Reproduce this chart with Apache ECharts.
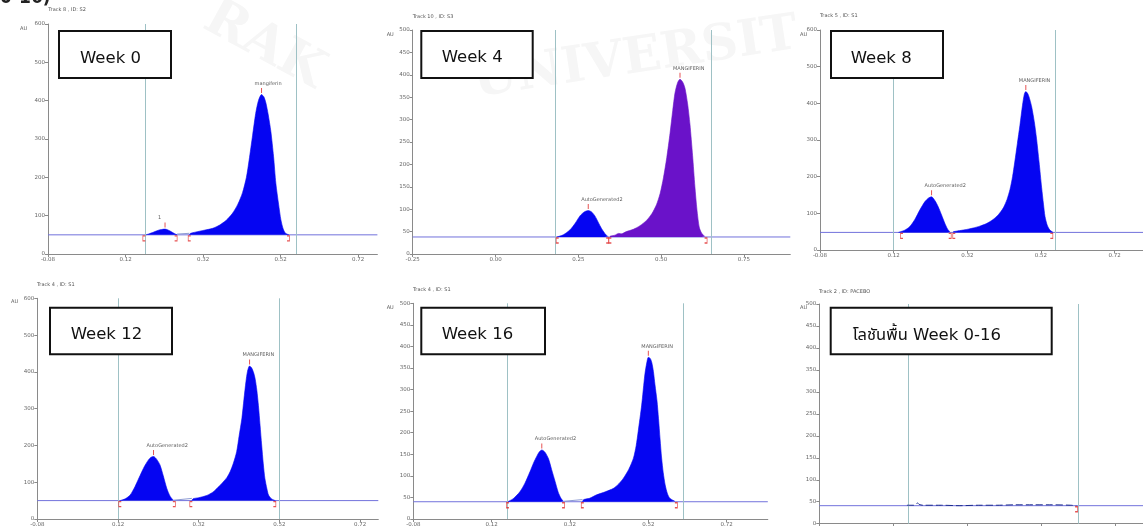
<!DOCTYPE html>
<html><head><meta charset="utf-8">
<script src="https://cdn.jsdelivr.net/npm/echarts@6/dist/echarts.min.js"></script>
<style>html,body{margin:0;padding:0;background:#fff}#c{width:1143px;height:526px}</style>
</head><body><div id="c"></div>
<script>
// ---------------- DATA ----------------
const panelTitles = ['Week 0', 'Week 4', 'Week 8', 'Week 12', 'Week 16', 'โลชันพื้น Week 0-16'];
const trackLabels = ['Track 8 , ID: S2', 'Track 10 , ID: S3', 'Track 5 , ID: S1', 'Track 4 , ID: S1', 'Track 4 , ID: S1', 'Track 2 , ID: PACEBO'];
const xRanges = [[-0.08, 0.77, 0.2], [-0.25, 0.89, 0.25], [-0.08, 0.80, 0.2], [-0.08, 0.765, 0.2], [-0.08, 0.825, 0.2], [-0.08, 0.796, 0.2]];
const yRanges = [[0, 600, 100], [0, 500, 50], [0, 600, 100], [0, 600, 100], [0, 500, 50], [0, 500, 50]];
const baselines = [50, 38, 48, 50, 40, 41];
const cutLines = [[0.165, 0.555], [0.182, 0.648], [0.12, 0.562], [0.12, 0.52], [0.157, 0.612], [0.157, 0.616]];

// Week 0
const w0Peak1 = [[0.173,50],[0.19,56],[0.205,62],[0.222,65],[0.235,60],[0.245,54],[0.253,50]];
const w0Gap = [[0.253,52],[0.285,54]];
const w0Main = [[0.285,50],[0.288,54],[0.30,57],[0.323,62],[0.345,67],[0.362,75],[0.38,88],[0.396,106],[0.41,130],[0.422,160],[0.432,200],[0.439,245],[0.448,310],[0.456,367],[0.463,400],[0.471,416],[0.477,410],[0.482,395],[0.488,365],[0.495,320],[0.502,255],[0.508,184],[0.515,130],[0.521,89],[0.527,65],[0.533,54],[0.542,50]];
const w0Open = [0.168, 0.285];
const w0Close = [0.25, 0.54];
const w0Peaks = [[0.222, 65, '1'], [0.471, 416, 'mangiferin']];

// Week 4
const w4Peak1 = [[0.185,38],[0.205,43],[0.225,54],[0.24,68],[0.255,85],[0.268,94],[0.28,97],[0.29,94],[0.30,85],[0.31,71],[0.32,57],[0.33,46],[0.339,39]];
const w4Main = [[0.346,40],[0.36,42],[0.372,46],[0.38,45],[0.395,50],[0.416,55],[0.436,63],[0.456,75],[0.472,90],[0.486,110],[0.497,135],[0.507,170],[0.517,215],[0.527,270],[0.535,320],[0.542,360],[0.55,383],[0.557,390],[0.565,384],[0.572,370],[0.58,335],[0.587,290],[0.595,220],[0.602,150],[0.608,100],[0.615,60],[0.622,47],[0.632,39]];
const w4Open = [0.187, 0.346];
const w4Close = [0.338, 0.635];
const w4Peaks = [[0.28, 97, 'AutoGenerated2'], [0.557, 390, 'MANGIFERIN']];

// Week 8
const w8Peak1 = [[0.133,48],[0.15,54],[0.164,64],[0.178,84],[0.191,109],[0.205,132],[0.215,142],[0.223,145],[0.232,135],[0.241,118],[0.25,96],[0.259,73],[0.266,58],[0.273,49]];
const w8Main = [[0.282,50],[0.30,53],[0.318,56],[0.336,60],[0.354,65],[0.372,72],[0.39,83],[0.405,97],[0.418,115],[0.428,138],[0.436,165],[0.443,200],[0.449,240],[0.456,290],[0.463,340],[0.47,395],[0.475,425],[0.479,432],[0.485,425],[0.49,410],[0.495,390],[0.502,350],[0.508,305],[0.515,240],[0.522,170],[0.527,125],[0.531,92],[0.537,68],[0.544,55],[0.553,48]];
const w8Open = [0.142, 0.284];
const w8Close = [0.273, 0.549];
const w8Peaks = [[0.223, 145, 'AutoGenerated2'], [0.479, 432, 'MANGIFERIN']];

// Week 12
const w12Peak1 = [[0.125,50],[0.138,55],[0.15,65],[0.162,88],[0.175,119],[0.185,142],[0.195,160],[0.202,168],[0.208,170],[0.216,162],[0.224,147],[0.232,118],[0.241,83],[0.249,62],[0.257,51]];
const w12Gap = [[0.257,51],[0.303,56]];
const w12Main = [[0.303,50],[0.306,55],[0.32,58],[0.34,64],[0.355,73],[0.365,83],[0.38,100],[0.39,113],[0.398,129],[0.406,152],[0.414,183],[0.42,225],[0.427,274],[0.432,325],[0.437,373],[0.441,402],[0.446,416],[0.451,411],[0.456,398],[0.46,380],[0.464,350],[0.468,308],[0.472,255],[0.476,201],[0.48,150],[0.484,110],[0.489,82],[0.493,65],[0.499,56],[0.505,52],[0.51,50]];
const w12Open = [0.125, 0.301];
const w12Close = [0.259, 0.508];
const w12Peaks = [[0.208, 170, 'AutoGenerated2'], [0.446, 416, 'MANGIFERIN']];

// Week 16
const w16Peak1 = [[0.161,40],[0.175,47],[0.192,63],[0.205,83],[0.218,110],[0.227,130],[0.235,145],[0.242,156],[0.248,160],[0.256,155],[0.265,140],[0.273,115],[0.282,87],[0.29,62],[0.297,48],[0.303,41]];
const w16Gap = [[0.303,41],[0.352,45]];
const w16Main = [[0.352,40],[0.355,45],[0.37,48],[0.388,56],[0.41,63],[0.431,71],[0.445,82],[0.456,94],[0.47,115],[0.482,141],[0.489,170],[0.494,202],[0.503,264],[0.511,334],[0.516,362],[0.52,375],[0.525,372],[0.529,362],[0.533,342],[0.537,311],[0.542,275],[0.546,233],[0.55,185],[0.554,141],[0.558,108],[0.563,79],[0.569,58],[0.575,48],[0.588,41]];
const w16Open = [0.161, 0.352];
const w16Close = [0.303, 0.591];
const w16Peaks = [[0.248, 160, 'AutoGenerated2'], [0.52, 375, 'MANGIFERIN']];

// Placebo
const placeboTrace = [[0.157,42],[0.175,42],[0.181,45],[0.186,47],[0.19,44],[0.2,42],[0.25,42],[0.3,41],[0.35,42],[0.4,42],[0.45,43],[0.5,43],[0.55,43],[0.6,42],[0.615,41]];
const placeboClose = [0.615];

// --------------- layout / style ---------------
const layouts = [
  {left:48, top:24, width:329.4, height:230},
  {left:412.7, top:30, width:377.6, height:224},
  {left:820, top:30, width:324, height:220},
  {left:37.3, top:298.3, width:341, height:220.7},
  {left:413.3, top:303.3, width:354.5, height:215.7},
  {left:819.3, top:304, width:324, height:219.7}
];
const BLUE = '#0505f2', PURPLE = '#6a12c9', RED = '#e02828', BASE = '#7272dc', CUT = '#9ec1c5';

const panels = [
  {areas:[[w0Peak1, BLUE],[w0Main, BLUE]], gaps:[w0Gap], open:w0Open, close:w0Close, peaks:w0Peaks},
  {areas:[[w4Peak1, BLUE],[w4Main, PURPLE]], gaps:[], open:w4Open, close:w4Close, peaks:w4Peaks},
  {areas:[[w8Peak1, BLUE],[w8Main, BLUE]], gaps:[], open:w8Open, close:w8Close, peaks:w8Peaks},
  {areas:[[w12Peak1, BLUE],[w12Main, BLUE]], gaps:[w12Gap], open:w12Open, close:w12Close, peaks:w12Peaks},
  {areas:[[w16Peak1, BLUE],[w16Main, BLUE]], gaps:[w16Gap], open:w16Open, close:w16Close, peaks:w16Peaks},
  {areas:[], gaps:[], trace:placeboTrace, open:[], close:placeboClose, peaks:[]}
];

const grid = [], xAxis = [], yAxis = [], series = [];
panels.forEach((p, i) => {
  const L = layouts[i];
  grid.push({left:L.left, top:L.top, width:L.width, height:L.height, containLabel:false, outerBoundsMode:'none'});
  const xr = xRanges[i], yr = yRanges[i];
  xAxis.push({type:'value', gridIndex:i, min:xr[0], max:xr[1], interval:xr[2],
    axisLine:{show:true, onZero:false, lineStyle:{color:'#8a8a8a', width:1}},
    axisTick:{show:true, length:3, lineStyle:{color:'#8a8a8a'}},
    splitLine:{show:false},
    axisLabel:{fontSize:5.5, color:'#666', margin:3, fontFamily:'DejaVu Sans', showMaxLabel:false,
      formatter:v => Math.abs(v - xr[1]) < 1e-9 ? '' : v.toFixed(2)}});
  yAxis.push({type:'value', gridIndex:i, min:yr[0], max:yr[1], interval:yr[2],
    axisLine:{show:true, onZero:false, lineStyle:{color:'#8a8a8a', width:1}},
    axisTick:{show:true, length:3, lineStyle:{color:'#8a8a8a'}},
    splitLine:{show:false},
    axisLabel:{fontSize:5.5, color:'#666', margin:3, fontFamily:'DejaVu Sans'}});
  const b = baselines[i];
  series.push({type:'line', xAxisIndex:i, yAxisIndex:i, data:[[xr[0], b],[xr[1], b]], symbol:'none',
    lineStyle:{color:BASE, width:1}, z:3, silent:true,
    markLine:{silent:true, symbol:'none', label:{show:false}, lineStyle:{color:CUT, width:1, type:'solid'},
      data:cutLines[i].map(v => ({xAxis:v}))}});
  p.areas.forEach(([d, col]) => {
    series.push({type:'line', xAxisIndex:i, yAxisIndex:i, data:d, smooth:0.25, symbol:'none',
      lineStyle:{color:col, width:0.6}, areaStyle:{color:col, opacity:1, origin:b}, z:4, silent:true});
  });
  p.gaps.forEach(d => {
    series.push({type:'line', xAxisIndex:i, yAxisIndex:i, data:d, symbol:'none',
      lineStyle:{color:'#8d9bd4', width:1}, z:4, silent:true});
  });
  if (p.trace) {
    series.push({type:'line', xAxisIndex:i, yAxisIndex:i, data:p.trace, symbol:'none', smooth:0.3,
      lineStyle:{color:'#1c2c8c', width:1, type:[7,3]}, z:5, silent:true});
  }
  if (p.open.length) series.push({type:'scatter', xAxisIndex:i, yAxisIndex:i, data:p.open.map(x => [x, b]),
    symbol:'path://M3,0L0,0L0,6L3,6', symbolSize:[2.5,5], symbolOffset:[0,3.5],
    itemStyle:{color:'transparent', borderColor:RED, borderWidth:1}, z:6, silent:true});
  if (p.close.length) series.push({type:'scatter', xAxisIndex:i, yAxisIndex:i, data:p.close.map(x => [x, b]),
    symbol:'path://M0,0L3,0L3,6L0,6', symbolSize:[2.5,5], symbolOffset:[0,3.5],
    itemStyle:{color:'transparent', borderColor:RED, borderWidth:1}, z:6, silent:true});
  if (p.peaks.length) series.push({type:'scatter', xAxisIndex:i, yAxisIndex:i,
    data:p.peaks.map(([x, y, n]) => ({value:[x, y], name:n})),
    symbol:'rect', symbolSize:[1,5], symbolOffset:[0,-4], itemStyle:{color:RED}, z:6, silent:true,
    label:{show:true, position:'top', distance:2, align:'left', offset:[-7,0], formatter:'{b}',
      fontSize:5, color:'#333', fontFamily:'DejaVu Sans'}});
});

// ---------------- graphics: boxes, track texts, AU ----------------
const boxes = [
  {x:59, y:31, w:112, h:47, tx:80, ty:59},
  {x:421.3, y:31, w:111.4, h:47, tx:441.7, ty:58},
  {x:831, y:31, w:112, h:47, tx:850.7, ty:59},
  {x:50, y:307.7, w:122, h:46.6, tx:70.7, ty:335},
  {x:421.3, y:307.7, w:123.7, h:46.6, tx:441.7, ty:335},
  {x:830.7, y:307.7, w:221, h:46.6, tx:852.7, ty:336}
];
const trackPos = [[48.3,10],[412.7,16.7],[820,16],[37,285],[413,290],[819,292]];
const auPos = [[20,29],[386.7,34.3],[800,34.3],[11,302],[386.7,308],[800,308]];
const graphic = [];
graphic.push({type:'text', left:195, top:-8, rotation:-0.5, z:-10, silent:true,
  style:{text:'RAK', fontSize:52, fontWeight:'bold', fill:'#f6f6f6', fontFamily:'DejaVu Serif'}});
graphic.push({type:'text', left:470, top:10, rotation:0.15, z:-10, silent:true,
  style:{text:'UNIVERSIT', fontSize:50, fontWeight:'bold', fill:'#f6f6f6', fontFamily:'DejaVu Serif'}});
graphic.push({type:'text', left:0, top:-11, silent:true,
  style:{text:'0-16)', fontSize:19, fontWeight:'bold', fill:'#222', fontFamily:'DejaVu Sans Condensed'}});
boxes.forEach((bx, i) => {
  graphic.push({type:'rect', shape:{x:bx.x, y:bx.y, width:bx.w, height:bx.h}, z:100, silent:true,
    style:{fill:'#fff', stroke:'#111', lineWidth:2}});
  graphic.push({type:'text', x:bx.tx, y:bx.ty, z:101, silent:true,
    style:{text:panelTitles[i], fontSize:16.5, fill:'#111', textVerticalAlign:'middle',
      fontFamily:"'DejaVu Sans', 'Noto Sans Thai', 'Noto Sans', sans-serif"}});
  graphic.push({type:'text', x:trackPos[i][0], y:trackPos[i][1], silent:true,
    style:{text:trackLabels[i], fontSize:5, fill:'#555', textVerticalAlign:'middle', fontFamily:'DejaVu Sans'}});
  graphic.push({type:'text', x:auPos[i][0], y:auPos[i][1], silent:true,
    style:{text:'AU', fontSize:5, fill:'#555', textVerticalAlign:'middle', fontFamily:'DejaVu Sans'}});
});

const chart = echarts.init(document.getElementById('c'), null, {renderer:'canvas'});
chart.setOption({animation:false, backgroundColor:'#fff', grid, xAxis, yAxis, series, graphic});
</script></body></html>
